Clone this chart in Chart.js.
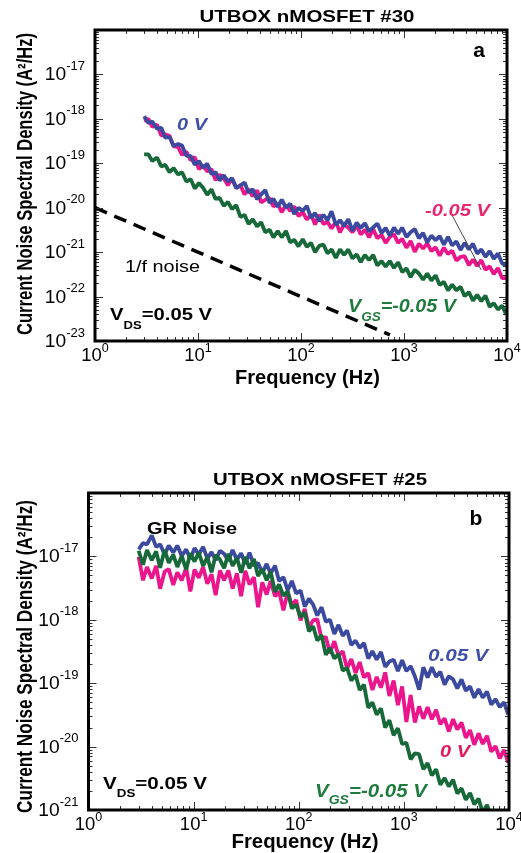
<!DOCTYPE html>
<html><head><meta charset="utf-8">
<style>
html,body{margin:0;padding:0;background:#fff;}
body{width:521px;height:853px;position:relative;overflow:hidden;}
canvas{position:absolute;left:0;}
#ca{top:0;}
#cb{top:400px;}
</style>
<script src="https://cdn.jsdelivr.net/npm/chart.js"></script>
</head><body>
<canvas id="ca" width="521" height="400"></canvas>
<canvas id="cb" width="521" height="453"></canvas>
<script>
// ---------- DATA ----------
const FREQ_HZ = [3,3.3,3.6,4,4.4,4.8,5.3,5.8,6.4,7,7.7,8.5,9.3,10.2,11.2,12.3,13.5,14.8,16.2,17.8,19.5,21.4,23.5,25.8,28.3,
31,34,37.5,41,45,49.5,54,59.5,65,71.5,78.5,86,94.5,104,114,125,137,150,165,181,198,218,239,262,288,
316,347,380,417,458,502,551,605,664,728,799,877,962,1056,1159,1272,1396,1532,1681,1845,2025,2222,2439,2676,2937,
3223,3537,3882,4260,4675,5130,5630,6179,6781,7442,8167,8963,9836];

// Panel a : UTBOX nMOSFET #30  (A^2/Hz)
const A_BLUE_0V = [1.15e-18,8.1e-19,8.7e-19,6.0e-19,6.3e-19,3.8e-19,3.9e-19,2.45e-19,2.7e-19,2.5e-19,
1.48e-19,1.45e-19,9.3e-20,1.12e-19,7.9e-20,9.8e-20,5.75e-20,6.3e-20,4.1e-20,5.4e-20,
3.9e-20,4.6e-20,2.75e-20,3.2e-20,3.7e-20,2.2e-20,2.6e-20,1.55e-20,2.0e-20,2.5e-20,
1.29e-20,1.58e-20,1.05e-20,1.51e-20,1.0e-20,1.23e-20,7.2e-21,1.0e-20,8.5e-21,1.1e-20,
5.9e-21,7.6e-21,5.0e-21,6.9e-21,5.25e-21,8.3e-21,4.1e-21,5.25e-21,3.9e-21,5.5e-21,
3.0e-21,4.6e-21,3.5e-21,4.5e-21,2.95e-21,3.6e-21,4.4e-21,2.7e-21,3.5e-21,2.35e-21,
3.55e-21,2.6e-21,3.55e-21,2.2e-21,2.8e-21,3.3e-21,2.05e-21,2.7e-21,1.66e-21,2.35e-21,
1.86e-21,2.3e-21,1.48e-21,2.2e-21,1.41e-21,1.74e-21,1.12e-21,1.62e-21,1.15e-21,1.55e-21,
9.3e-22,1.15e-21,7.8e-22,1.05e-21,7.1e-22,9.3e-22,5.6e-22,5.0e-22];
const A_PINK_M005V = [8.9e-19,1.0e-18,6.6e-19,7.4e-19,4.2e-19,4.5e-19,4.1e-19,2.4e-19,2.35e-19,1.55e-19,
1.82e-19,1.17e-19,1.38e-19,7.4e-20,8.9e-20,6.6e-20,7.4e-20,4.2e-20,5.5e-20,4.6e-20,
3.2e-20,4.6e-20,2.8e-20,3.2e-20,2.0e-20,2.6e-20,1.82e-20,2.45e-20,1.32e-20,1.51e-20,
1.66e-20,1.07e-20,1.23e-20,7.9e-21,1.15e-20,8.5e-21,1.07e-20,6.5e-21,7.9e-21,5.4e-21,
7.1e-21,4.2e-21,6.9e-21,4.3e-21,4.8e-21,3.4e-21,4.8e-21,2.8e-21,4.2e-21,3.55e-21,
2.8e-21,4.0e-21,2.5e-21,3.2e-21,2.15e-21,3.3e-21,2.05e-21,2.45e-21,1.62e-21,2.2e-21,
2.5e-21,1.62e-21,2.0e-21,1.26e-21,1.78e-21,1.02e-21,1.55e-21,1.2e-21,1.58e-21,1.05e-21,
1.29e-21,8.3e-22,1.26e-21,9.1e-22,1.07e-21,6.5e-22,7.8e-22,8.1e-22,5.1e-22,6.8e-22,
4.9e-22,6.6e-22,4.0e-22,4.8e-22,3.2e-22,4.4e-22,2.6e-22,2.6e-22];
const A_GREEN_VGS_M005V = [1.58e-19,1.58e-19,1.12e-19,1.35e-19,8.5e-20,9.3e-20,6.3e-20,7.8e-20,5.6e-20,6.3e-20,
3.9e-20,4.4e-20,2.7e-20,3.6e-20,2.8e-20,1.95e-20,2.6e-20,1.58e-20,1.66e-20,1.1e-20,
1.35e-20,9.3e-21,1.15e-20,6.2e-21,6.9e-21,4.3e-21,5.5e-21,3.8e-21,4.7e-21,2.8e-21,
3.2e-21,2.15e-21,3.0e-21,2.15e-21,3.0e-21,1.66e-21,1.9e-21,1.35e-21,1.95e-21,1.32e-21,
1.62e-21,1.0e-21,1.38e-21,1.48e-21,9.3e-22,1.15e-21,7.4e-22,1.15e-21,8.7e-22,1.15e-21,
7.2e-22,8.9e-22,6.0e-22,8.7e-22,6.6e-22,8.7e-22,5.0e-22,6.3e-22,4.7e-22,6.3e-22,
4.4e-22,5.9e-22,3.55e-22,4.3e-22,2.75e-22,4.0e-22,3.3e-22,2.4e-22,3.3e-22,2.3e-22,
3.0e-22,1.82e-22,2.15e-22,1.38e-22,1.86e-22,1.38e-22,1.66e-22,1.02e-22,1.26e-22,8.1e-23,
1.1e-22,7.9e-23,1.05e-22,5.9e-23,7.1e-23,5.1e-23,6.3e-23,3.9e-23];
// 1/f reference line (dashed)
const ONE_OVER_F_HZ = [1, 730];
const ONE_OVER_F_PSD = [1e-20, 1.37e-23];

// Panel b : UTBOX nMOSFET #25
const B_BLUE_005V = [1.29e-17,1.62e-17,1.55e-17,2.15e-17,1.41e-17,1.55e-17,1.07e-17,1.48e-17,1.15e-17,1.48e-17,
1.02e-17,1.29e-17,9.1e-18,1.35e-17,1.07e-17,1.41e-17,9.3e-18,1.17e-17,8.7e-18,1.23e-17,
1.1e-17,8.5e-18,1.26e-17,8.9e-18,1.12e-17,7.6e-18,1.15e-17,7.1e-18,7.9e-18,5.5e-18,
7.6e-18,5.4e-18,7.1e-18,4.1e-18,4.7e-18,2.9e-18,4.1e-18,2.6e-18,2.9e-18,1.62e-18,
2.15e-18,1.74e-18,1.17e-18,1.58e-18,9.3e-19,1.0e-18,6.0e-19,8.3e-19,5.6e-19,6.8e-19,
4.0e-19,4.7e-19,3.6e-19,4.3e-19,2.45e-19,3.2e-19,2.35e-19,3.1e-19,1.82e-19,2.2e-19,
2.35e-19,1.55e-19,2.3e-19,1.55e-19,1.86e-19,1.29e-19,7.9e-20,1.78e-19,1.23e-19,1.78e-19,
1.26e-19,1.51e-19,9.5e-20,1.29e-19,1.15e-19,8.3e-20,1.15e-19,7.6e-20,8.9e-20,5.9e-20,
8.1e-20,5.9e-20,7.4e-20,4.6e-20,5.6e-20,4.2e-20,5.0e-20,3.2e-20];
const B_PINK_0V = [9.8e-18,4.2e-18,6.8e-18,4.5e-18,7.1e-18,3.1e-18,5.75e-18,6.3e-18,3.55e-18,5.6e-18,
4.2e-18,6.6e-18,2.8e-18,6.2e-18,4.6e-18,6.8e-18,3.7e-18,5.25e-18,2.45e-18,6.0e-18,
4.2e-18,6.0e-18,3.1e-18,5.4e-18,2.35e-18,5.9e-18,3.6e-18,4.7e-18,1.58e-18,3.9e-18,
2.5e-18,4.1e-18,2.35e-18,2.8e-18,1.41e-18,2.75e-18,1.7e-18,2.05e-18,9.8e-19,1.48e-18,
7.6e-19,9.8e-19,1.02e-18,4.9e-19,5.4e-19,2.95e-19,4.6e-19,2.7e-19,3.2e-19,1.7e-19,
2.4e-19,1.45e-19,2.15e-19,1.23e-19,1.45e-19,7.8e-20,1.26e-19,8.5e-20,1.48e-19,6.3e-20,
1.1e-19,4.5e-20,8.9e-20,2.45e-20,6.5e-20,2.4e-20,4.3e-20,2.75e-20,4.2e-20,2.7e-20,
3.8e-20,2.25e-20,2.8e-20,1.74e-20,2.7e-20,1.86e-20,2.4e-20,1.38e-20,1.82e-20,1.07e-20,
1.62e-20,1.1e-20,1.48e-20,8.3e-21,1.02e-20,6.5e-21,8.9e-21,5.6e-21];
const B_GREEN_VGS_M005V = [1.23e-17,7.4e-18,1.26e-17,8.7e-18,1.2e-17,6.6e-18,1.26e-17,7.9e-18,1.07e-17,6.8e-18,
1.02e-17,6.2e-18,1.12e-17,8.3e-18,1.15e-17,7.1e-18,9.8e-18,5.6e-18,1.05e-17,8.9e-18,
6.5e-18,1.1e-17,7.1e-18,9.5e-18,5.5e-18,9.8e-18,6.5e-18,9.1e-18,4.9e-18,6.3e-18,
4.2e-18,5.75e-18,2.75e-18,3.6e-18,2.4e-18,2.8e-18,1.51e-18,1.74e-18,1.1e-18,1.32e-18,
6.6e-19,7.9e-19,4.7e-19,5.75e-19,2.8e-19,3.6e-19,2.45e-19,2.9e-19,1.58e-19,1.74e-19,
1.1e-19,1.35e-19,7.8e-20,9.5e-20,4.1e-20,5.0e-20,3.2e-20,4.0e-20,2.0e-20,2.6e-20,
1.51e-20,1.95e-20,1.1e-20,1.15e-20,6.3e-21,7.8e-21,7.6e-21,4.4e-21,5.5e-21,3.5e-21,
4.4e-21,2.5e-21,3.2e-21,2.35e-21,3.0e-21,1.82e-21,2.2e-21,1.45e-21,1.86e-21,1.23e-21,
1.51e-21,9.1e-22,1.2e-21,7.9e-22,8.9e-22,5.9e-22,7.2e-22,5.0e-22];

// tick labels (exponents of 10)
const X_TICK_EXP = [0, 1, 2, 3, 4];
const Y_TICK_EXP_A = [-23, -22, -21, -20, -19, -18, -17];
const Y_TICK_EXP_B = [-21, -20, -19, -18, -17];

// ---------- styles ----------
const C_BLUE = '#3b4a9f', C_PINK = '#ec168c', C_GREEN = '#17693a';
const FONT = '"Liberation Sans", Arial, Helvetica, sans-serif';

function pts(xs, ys) { return xs.map((x, i) => ({x: x, y: ys[i]})); }
function fontStr(p) { return (p.style || 'normal') + ' ' + (p.weight || 'normal') + ' ' + p.size + 'px ' + FONT; }

function drawRich(ctx, parts, x, y, o) {
  ctx.save();
  let total = 0;
  const w = parts.map(p => { ctx.font = fontStr(p); const m = ctx.measureText(p.t).width; total += m; return m; });
  const sx = o.width ? o.width / total : (o.sx || 1);
  ctx.translate(x, y);
  if (o.rotate) ctx.rotate(o.rotate);
  ctx.scale(sx, 1);
  let s = o.align === 'center' ? -total / 2 : (o.align === 'right' ? -total : 0);
  ctx.textBaseline = 'alphabetic';
  ctx.textAlign = 'left';
  ctx.fillStyle = o.color || '#000';
  parts.forEach((p, i) => { ctx.font = fontStr(p); ctx.fillText(p.t, s, p.dy || 0); s += w[i]; });
  ctx.restore();
}

function framePlugin(cfg) {
  return {
    id: 'frame' + cfg.name,
    afterDraw(chart) {
      const ctx = chart.ctx, a = chart.chartArea;
      const xs = chart.scales.x, ys = chart.scales.y;
      ctx.save();
      // inner ticks on all four sides
      ctx.strokeStyle = '#333';
      ctx.lineWidth = 1;
      ctx.beginPath();
      for (let e = cfg.xMinExp; e <= cfg.xMaxExp; e++) {
        for (let m = 1; m <= 9; m++) {
          if (e === cfg.xMaxExp && m > 1) break;
          const px = Math.round(xs.getPixelForValue(m * Math.pow(10, e))) + 0.5;
          const len = m === 1 ? 8 : 4;
          ctx.moveTo(px, a.bottom); ctx.lineTo(px, a.bottom - len);
          ctx.moveTo(px, a.top); ctx.lineTo(px, a.top + len);
        }
      }
      for (let e = cfg.yMinExp; e <= cfg.yMaxExp; e++) {
        for (let m = 1; m <= 9; m++) {
          if (e === cfg.yMaxExp && m > 1) break;
          const py = Math.round(ys.getPixelForValue(m * Math.pow(10, e))) + 0.5;
          const len = m === 1 ? 8 : 4;
          ctx.moveTo(a.left, py); ctx.lineTo(a.left + len, py);
          ctx.moveTo(a.right, py); ctx.lineTo(a.right - len, py);
        }
      }
      ctx.stroke();
      // frame
      ctx.strokeStyle = '#000';
      ctx.lineWidth = 3;
      ctx.strokeRect(a.left, a.top, a.right - a.left, a.bottom - a.top);
      // leader line(s) in data coordinates
      (cfg.leaders || []).forEach(L => {
        ctx.strokeStyle = '#444'; ctx.lineWidth = 1;
        ctx.beginPath();
        ctx.moveTo(xs.getPixelForValue(L[0]), ys.getPixelForValue(L[1]));
        ctx.lineTo(xs.getPixelForValue(L[2]), ys.getPixelForValue(L[3]));
        ctx.stroke();
      });
      ctx.restore();
      // tick labels
      X_TICK_EXP.forEach(e => {
        const px = xs.getPixelForValue(Math.pow(10, e));
        drawRich(ctx, [{t: '10', size: 18.5}, {t: String(e), size: 12.5, dy: -9}], px, a.bottom + 20, {align: 'center'});
      });
      cfg.yTickExp.forEach(e => {
        const py = ys.getPixelForValue(Math.pow(10, e));
        drawRich(ctx, [{t: '10', size: 18.5}, {t: String(e), size: 12.5, dy: -10.5}], a.left - 10, py + 6, {align: 'right', sx: 1.04});
      });
      // texts
      cfg.texts.forEach(T => drawRich(ctx, T.parts, T.x, T.y, T));
    }
  };
}

function lineDs(label, data, color, w) {
  return {label: label, data: data, borderColor: color, backgroundColor: color, borderWidth: w || 3.8,
          pointRadius: 0, tension: 0, fill: false, borderJoinStyle: 'bevel'};
}

function makeChart(id, datasets, pad, yMin, yMax, plugin) {
  return new Chart(document.getElementById(id), {
    type: 'line',
    data: {datasets: datasets},
    options: {
      responsive: false, animation: false, events: [],
      layout: {padding: pad},
      plugins: {legend: {display: false}, tooltip: {enabled: false}},
      scales: {
        x: {type: 'logarithmic', min: 1, max: 1e4, display: false},
        y: {type: 'logarithmic', min: yMin, max: yMax, display: false}
      }
    },
    plugins: [plugin]
  });
}

const BI = {weight: 'bold', style: 'italic'};

// ---------- panel a ----------
makeChart('ca', [
  lineDs('VGS=-0.05 V', pts(FREQ_HZ, A_GREEN_VGS_M005V), C_GREEN),
  lineDs('0 V', pts(FREQ_HZ, A_BLUE_0V), C_BLUE),
  lineDs('-0.05 V', pts(FREQ_HZ, A_PINK_M005V), C_PINK),
  Object.assign(lineDs('1/f noise', pts(ONE_OVER_F_HZ, ONE_OVER_F_PSD), '#000', 3.5), {borderDash: [13, 8], borderCapStyle: 'butt'})
], {left: 95, right: 14, top: 30, bottom: 59}, 1e-23, 1e-16, framePlugin({
  name: 'A', xMinExp: 0, xMaxExp: 4, yMinExp: -23, yMaxExp: -16, yTickExp: Y_TICK_EXP_A,
  leaders: [[2925, 6.8e-21, 5600, 4.0e-22]],
  texts: [
    {parts: [{t: 'UTBOX nMOSFET #30', size: 16.5, weight: 'bold'}], x: 307, y: 21.5, align: 'center', width: 215},
    {parts: [{t: 'Current Noise Spectral Density (A²/Hz)', size: 21.5, weight: 'bold'}], x: 31.5, y: 184, align: 'center', width: 302, rotate: -Math.PI / 2},
    {parts: [{t: 'Frequency (Hz)', size: 19.5, weight: 'bold'}], x: 307.5, y: 384, align: 'center', width: 145},
    {parts: [{t: 'a', size: 21, weight: 'bold'}], x: 479, y: 57, align: 'center'},
    {parts: [Object.assign({t: '0 V', size: 17}, BI)], x: 177, y: 130, align: 'left', width: 30, color: '#3f4ea6'},
    {parts: [Object.assign({t: '-0.05 V', size: 16.5}, BI)], x: 425, y: 216, align: 'left', width: 65, color: '#e8266f'},
    {parts: [Object.assign({t: 'V', size: 17.5}, BI), Object.assign({t: 'GS', size: 12, dy: 9}, BI), Object.assign({t: '=-0.05 V', size: 17.5}, BI)], x: 348, y: 312, align: 'left', width: 108, color: '#1e7a3d'},
    {parts: [{t: '1/f noise', size: 17}], x: 125, y: 271.5, align: 'left', width: 75},
    {parts: [{t: 'V', size: 17, weight: 'bold'}, {t: 'DS', size: 11, weight: 'bold', dy: 9}, {t: '=0.05 V', size: 17, weight: 'bold'}], x: 110, y: 320, align: 'left', width: 102}
  ]
}));

// ---------- panel b ----------
makeChart('cb', [
  lineDs('VGS=-0.05 V', pts(FREQ_HZ, B_GREEN_VGS_M005V), C_GREEN),
  lineDs('0.05 V', pts(FREQ_HZ, B_BLUE_005V), C_BLUE),
  lineDs('0 V', pts(FREQ_HZ, B_PINK_0V), C_PINK)
], {left: 88.5, right: 12, top: 93, bottom: 43}, 1e-21, 1e-16, framePlugin({
  name: 'B', xMinExp: 0, xMaxExp: 4, yMinExp: -21, yMaxExp: -16, yTickExp: Y_TICK_EXP_B,
  texts: [
    {parts: [{t: 'UTBOX nMOSFET #25', size: 16.5, weight: 'bold'}], x: 320, y: 85, align: 'center', width: 214},
    {parts: [{t: 'Current Noise Spectral Density (A²/Hz)', size: 21.5, weight: 'bold'}], x: 31.5, y: 256.5, align: 'center', width: 313, rotate: -Math.PI / 2},
    {parts: [{t: 'Frequency (Hz)', size: 19.5, weight: 'bold'}], x: 305, y: 448, align: 'center', width: 147},
    {parts: [{t: 'b', size: 21, weight: 'bold'}], x: 476, y: 125, align: 'center'},
    {parts: [{t: 'GR Noise', size: 16, weight: 'bold'}], x: 147, y: 134, align: 'left', width: 90},
    {parts: [Object.assign({t: '0.05 V', size: 16}, BI)], x: 428, y: 260.5, align: 'left', width: 60, color: '#3f4ea6'},
    {parts: [Object.assign({t: '0 V', size: 16}, BI)], x: 440, y: 357, align: 'left', width: 30, color: '#e3195e'},
    {parts: [Object.assign({t: 'V', size: 17.5}, BI), Object.assign({t: 'GS', size: 12, dy: 7.5}, BI), Object.assign({t: '=-0.05 V', size: 17.5}, BI)], x: 315, y: 396.5, align: 'left', width: 112, color: '#1e7a3d'},
    {parts: [{t: 'V', size: 17, weight: 'bold'}, {t: 'DS', size: 11, weight: 'bold', dy: 8}, {t: '=0.05 V', size: 17, weight: 'bold'}], x: 103, y: 389, align: 'left', width: 104}
  ]
}));
</script>
</body></html>
